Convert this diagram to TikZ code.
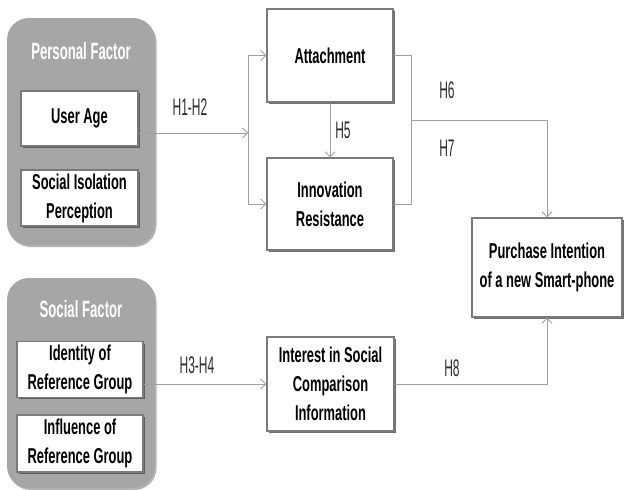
\documentclass[tikz,border=0pt]{standalone}
\usepackage{fontspec}
\setmainfont{Liberation Sans}[FakeStretch=0.6]
\newfontfamily\ttlfont{Liberation Sans}[FakeStretch=0.56]
\newfontfamily\lblfont{Liberation Sans}[FakeStretch=0.5]
\usetikzlibrary{arrows.meta,shadows}
\definecolor{grpgray}{HTML}{A6A6A6}
\definecolor{boxline}{HTML}{7A7A7A}
\definecolor{conngray}{HTML}{A0A0A0}
\definecolor{lbltext}{HTML}{2A2A38}
\begin{document}
\begin{tikzpicture}[x=1pt, y=-1pt,
    group/.style={fill=grpgray, rounded corners=22pt, drop shadow={shadow xshift=1.5pt, shadow yshift=-2pt, fill=gray, opacity=.6}},
    grptitle/.style={text=white, font=\ttlfont\fontsize{23.5}{26}\selectfont\bfseries},
    factor/.style={draw=boxline, line width=1.4pt, fill=white, align=center, font=\fontsize{21.5}{29}\selectfont\bfseries,
        drop shadow={shadow xshift=2pt, shadow yshift=-2pt, fill=black!70, opacity=.8}},
    conn/.style={draw=conngray, line width=1pt},
    tip/.style={-{Straight Barb[length=5pt, width=10pt, line width=.8pt]}},
    lbl/.style={text=lbltext, font=\lblfont\fontsize{24}{26}\selectfont}]
  \useasboundingbox (0,0) rectangle (624,490);
  % personal factor
  \node[group, minimum width=148pt, minimum height=227pt] (pers) at (81,131.5) {};
  \node[grptitle] (perst) at (81,51) {Personal Factor};
  \node[factor, minimum width=117pt, minimum height=55pt] (age) at (79.5,118.5) {User Age};
  \node[factor, minimum width=117pt, minimum height=54pt] (iso) at (79.5,198) {Social Isolation\\Perception};
  % social factor
  \node[group, minimum width=148pt, minimum height=210pt] (soc) at (81,383) {};
  \node[grptitle] (soct) at (81,309) {Social Factor};
  \node[factor, minimum width=126pt, minimum height=55pt] (ident) at (80,369.5) {Identity of\\Reference Group};
  \node[factor, minimum width=126pt, minimum height=57pt] (infl) at (80,443.5) {Influence of\\Reference Group};
  % mediators and outcome
  \node[factor, minimum width=126pt, minimum height=93pt] (att) at (330,55.5) {Attachment};
  \node[factor, minimum width=126pt, minimum height=92pt] (res) at (330,204) {Innovation\\Resistance};
  \node[factor, minimum width=127pt, minimum height=94pt] (intr) at (330.5,384) {Interest in Social\\Comparison\\Information};
  \node[factor, minimum width=150pt, minimum height=99pt] (pur) at (547,267.5) {Purchase Intention\\of a new Smart-phone};
  % paths
  \coordinate (split) at (248,133); \coordinate (join) at (411,120);
  \draw[conn, tip] (age.east |- split) -- (split);
  \draw[conn, tip] (split) |- (att.west); \draw[conn, tip] (split) |- (res.west);
  \draw[conn, tip] (att) -- (res);
  \draw[conn] (att.east) -| (join) (res.east) -| (join);
  \draw[conn, tip] (join) -| (pur.north);
  \draw[conn, tip] (ident.east |- intr.west) -- (intr.west);
  \draw[conn, tip] (intr.east) -| (pur.south);
  % hypothesis labels
  \node[lbl] (h12) at (190,107) {H1-H2}; \node[lbl] (h34) at (197,365) {H3-H4};
  \node[lbl] (h5) at (343,130) {H5}; \node[lbl] (h6) at (447,90) {H6};
  \node[lbl] (h7) at (447,148) {H7}; \node[lbl] (h8) at (452,368) {H8};
\end{tikzpicture}
\end{document}
